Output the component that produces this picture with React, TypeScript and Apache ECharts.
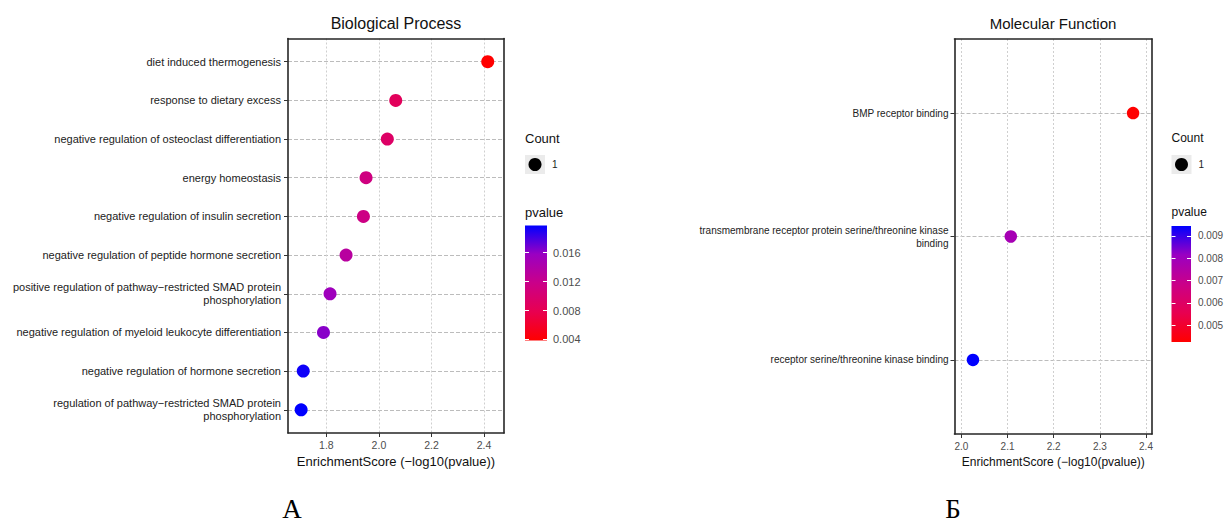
import React, { useEffect, useRef } from "react";
import * as echarts from "echarts";

// ---------- data ----------
const bpTerms = [
  "diet induced thermogenesis",
  "response to dietary excess",
  "negative regulation of osteoclast differentiation",
  "energy homeostasis",
  "negative regulation of insulin secretion",
  "negative regulation of peptide hormone secretion",
  "positive regulation of pathway\u2212restricted SMAD protein\nphosphorylation",
  "negative regulation of myeloid leukocyte differentiation",
  "negative regulation of hormone secretion",
  "regulation of pathway\u2212restricted SMAD protein\nphosphorylation",
];
const bpScores = [2.414, 2.064, 2.032, 1.951, 1.941, 1.875, 1.814, 1.789, 1.712, 1.704];
const bpCounts = [1, 1, 1, 1, 1, 1, 1, 1, 1, 1];

const mfTerms = [
  "BMP receptor binding",
  "transmembrane receptor protein serine/threonine kinase\nbinding",
  "receptor serine/threonine kinase binding",
];
const mfScores = [2.372, 2.107, 2.025];
const mfCounts = [1, 1, 1];

const bpXTicks = [1.8, 2.0, 2.2, 2.4];
const mfXTicks = [2.0, 2.1, 2.2, 2.3, 2.4];
const bpPTicks = [0.004, 0.008, 0.012, 0.016];
const mfPTicks = [0.005, 0.006, 0.007, 0.008, 0.009];
const countLabels = ["1"];

const bpTitle = "Biological Process";
const mfTitle = "Molecular Function";
const xName = "EnrichmentScore (\u2212log10(pvalue))";
const panelLabels = ["\u0410", "\u0411"];

// ---------- style ----------
const FONT = "'Liberation Sans', Arial, sans-serif";
const SERIF = "'Liberation Serif', 'Times New Roman', serif";
const GRADIENT = ["#FF0000", "#E80050", "#CA0089", "#9A00C2", "#0000FF"];
const FRAME = "#262626";

const pv = (s: number) => Math.pow(10, -s);
const isTick = (v: number, ticks: number[]) => ticks.some((t) => Math.abs(t - v) < 1e-9);

export default function App() {
  const ref = useRef<HTMLDivElement>(null);

  useEffect(() => {
    if (!ref.current) return;
    const chart = echarts.init(ref.current, null, { renderer: "svg" });

    const bpP = bpScores.map(pv);
    const mfP = mfScores.map(pv);
    const bpPRange = [Math.min(...bpP), Math.max(...bpP)];
    const mfPRange = [Math.min(...mfP), Math.max(...mfP)];

    const plotGrid = (left: number, top: number, width: number, height: number) => ({
      left, top, width, height,
      show: false,
      containLabel: false,
      outerBoundsMode: "none",
    });

    const barGrid = (left: number, top: number, width: number, height: number) => ({
      left, top, width, height, show: false, containLabel: false, outerBoundsMode: "none",
    });

    const frameLine = { show: true, onZero: false, lineStyle: { color: FRAME, width: 1.6 } };

    const catAxis = (gridIndex: number, terms: string[], fontSize: number, margin: number) => ({
      type: "value",
      gridIndex,
      position: "left",
      inverse: true,
      min: -0.6,
      max: terms.length - 0.4,
      minInterval: 1,
      maxInterval: 1,
      splitNumber: terms.length,
      axisLine: frameLine,
      axisTick: {
        show: true,
        length: 4,
        customValues: terms.map((_, i) => i),
        lineStyle: { color: "#333", width: 1 },
      },
      axisLabel: {
        show: true,
        margin,
        fontSize,
        fontFamily: FONT,
        color: "#222",
        lineHeight: 13,
        formatter: (v: number) => {
          const i = Math.round(v);
          return Math.abs(v - i) < 1e-6 && i >= 0 && i < terms.length ? terms[i] : "";
        },
      },
      splitLine: {
        show: true,
        lineStyle: { color: "#bcbcbc", type: [4, 2], width: 1 },
      },
    });

    const valAxis = (
      gridIndex: number,
      range: number[],
      ticks: number[],
      step: number,
      fontSize: number,
      nameSize: number,
      nameGap: number,
      margin: number
    ) => ({
      type: "value",
      gridIndex,
      position: "bottom",
      min: range[0],
      max: range[1],
      minInterval: step,
      maxInterval: step,
      splitNumber: ticks.length,
      name: xName,
      nameLocation: "middle",
      nameGap,
      nameTextStyle: { fontSize: nameSize, fontFamily: FONT, color: "#111" },
      axisLine: frameLine,
      axisTick: { show: true, length: 4, customValues: ticks, lineStyle: { color: "#333", width: 1 } },
      axisLabel: {
        show: true,
        margin,
        fontSize,
        fontFamily: FONT,
        color: "#4d4d4d",
        formatter: (v: number) => (isTick(v, ticks) ? v.toFixed(1) : ""),
      },
      splitLine: {
        show: true,
        lineStyle: { color: "#cfcfcf", type: [2, 2], width: 1 },
      },
    });

    // plain frame edges (top and right of each panel)
    const edgeX = (gridIndex: number, range: number[]) => ({
      type: "value", gridIndex, position: "top", min: range[0], max: range[1],
      axisLine: frameLine, axisTick: { show: false }, axisLabel: { show: false }, splitLine: { show: false },
    });
    const edgeY = (gridIndex: number, n: number) => ({
      type: "value", gridIndex, position: "right", inverse: true, min: -0.6, max: n - 0.4,
      axisLine: frameLine, axisTick: { show: false }, axisLabel: { show: false }, splitLine: { show: false },
    });

    const barXAxis = (gridIndex: number) => ({
      type: "value", gridIndex, show: false, min: 0, max: 1,
      axisLine: { onZero: false },
    });
    const barYAxis = (
      gridIndex: number,
      range: number[],
      ticks: number[],
      step: number,
      side: "left" | "right",
      fontSize: number,
      margin: number
    ) => ({
      type: "value",
      gridIndex,
      position: side,
      z: 10,
      min: range[0],
      max: range[1],
      minInterval: step,
      maxInterval: step,
      splitNumber: ticks.length,
      axisLine: { show: false, onZero: false },
      axisTick: { show: true, inside: true, length: 4, customValues: ticks, lineStyle: { color: "#ffffff", width: 1 } },
      axisLabel: {
        show: side === "right",
        margin,
        fontSize,
        fontFamily: FONT,
        color: "#4d4d4d",
        formatter: (v: number) => (isTick(v, ticks) ? v.toFixed(3) : ""),
      },
      splitLine: { show: false },
    });

    const gradientFill = () =>
      new echarts.graphic.LinearGradient(
        0, 1, 0, 0,
        GRADIENT.map((c, i) => ({ offset: i / (GRADIENT.length - 1), color: c }))
      );

    const legendCount = (x: number, fs: number) => [
      { type: "text", x, y: 138, style: { text: "Count", font: `${fs}px ${FONT}`, fill: "#111", align: "left", verticalAlign: "middle" } },
      { type: "rect", shape: { x, y: 155, width: 20, height: 19 }, style: { fill: "#ebebeb" } },
      { type: "circle", shape: { cx: x + 10, cy: 164.5, r: 6.5 }, style: { fill: "#000" } },
      { type: "text", x: x + 27, y: 164.5, style: { text: countLabels[0], font: `10px ${FONT}`, fill: "#222", align: "left", verticalAlign: "middle" } },
      { type: "text", x, y: 212, style: { text: "pvalue", font: `${fs}px ${FONT}`, fill: "#111", align: "left", verticalAlign: "middle" } },
    ];

    const bpXRange = [1.654, 2.476];
    const mfXRange = [1.985, 2.413];

    const option: any = {
      animation: false,
      backgroundColor: "#ffffff",
      grid: [
        plotGrid(288, 38.5, 216, 394.5),
        plotGrid(954.5, 39, 197.5, 395),
        barGrid(525, 225.5, 22, 115),
        barGrid(1171.5, 226, 19.5, 116),
      ],
      xAxis: [
        valAxis(0, bpXRange, bpXTicks, 0.2, 10.5, 13, 22, 6),
        valAxis(1, mfXRange, mfXTicks, 0.1, 10, 12, 22, 7),
        barXAxis(2),
        barXAxis(3),
        edgeX(0, bpXRange),
        edgeX(1, mfXRange),
      ],
      yAxis: [
        catAxis(0, bpTerms, 11, 7),
        catAxis(1, mfTerms, 10, 6),
        barYAxis(2, bpPRange, bpPTicks, 0.004, "right", 11, 6),
        barYAxis(2, bpPRange, bpPTicks, 0.004, "left", 11, 6),
        barYAxis(3, mfPRange, mfPTicks, 0.001, "right", 10, 7),
        barYAxis(3, mfPRange, mfPTicks, 0.001, "left", 10, 7),
        edgeY(0, bpTerms.length),
        edgeY(1, mfTerms.length),
      ],
      visualMap: [
        { type: "continuous", show: false, seriesIndex: 0, dimension: 2, min: bpPRange[0], max: bpPRange[1], inRange: { color: GRADIENT } },
        { type: "continuous", show: false, seriesIndex: 1, dimension: 2, min: mfPRange[0], max: mfPRange[1], inRange: { color: GRADIENT } },
      ],
      series: [
        {
          type: "scatter",
          xAxisIndex: 0,
          yAxisIndex: 0,
          z: 5,
          symbolSize: (d: number[]) => 13 * Math.sqrt(d[3]),
          itemStyle: { opacity: 1 },
          data: bpScores.map((s, i) => [s, i, bpP[i], bpCounts[i]]),
        },
        {
          type: "scatter",
          xAxisIndex: 1,
          yAxisIndex: 1,
          z: 5,
          symbolSize: (d: number[]) => 12.5 * Math.sqrt(d[3]),
          itemStyle: { opacity: 1 },
          data: mfScores.map((s, i) => [s, i, mfP[i], mfCounts[i]]),
        },
      ],
      graphic: [
        { type: "text", x: 396, y: 23, style: { text: bpTitle, font: `16px ${FONT}`, fill: "#111", align: "center", verticalAlign: "middle" } },
        { type: "text", x: 1053, y: 23, style: { text: mfTitle, font: `15px ${FONT}`, fill: "#111", align: "center", verticalAlign: "middle" } },
        { type: "rect", z: 1, shape: { x: 525, y: 225.5, width: 22, height: 115 }, style: { fill: gradientFill() } },
        { type: "rect", z: 1, shape: { x: 1171.5, y: 226, width: 19.5, height: 116 }, style: { fill: gradientFill() } },
        ...legendCount(525, 13),
        ...legendCount(1171.5, 12),
        { type: "text", x: 292, y: 509, style: { text: panelLabels[0], font: `27px ${SERIF}`, fill: "#000", align: "center", verticalAlign: "middle" } },
        { type: "text", x: 953, y: 509, style: { text: panelLabels[1], font: `27px ${SERIF}`, fill: "#000", align: "center", verticalAlign: "middle" } },
      ],
    };

    chart.setOption(option);
    return () => chart.dispose();
  }, []);

  return (
    <div
      ref={ref}
      style={{ position: "absolute", left: 0, top: 0, width: 1224, height: 525, background: "#fff" }}
    />
  );
}
